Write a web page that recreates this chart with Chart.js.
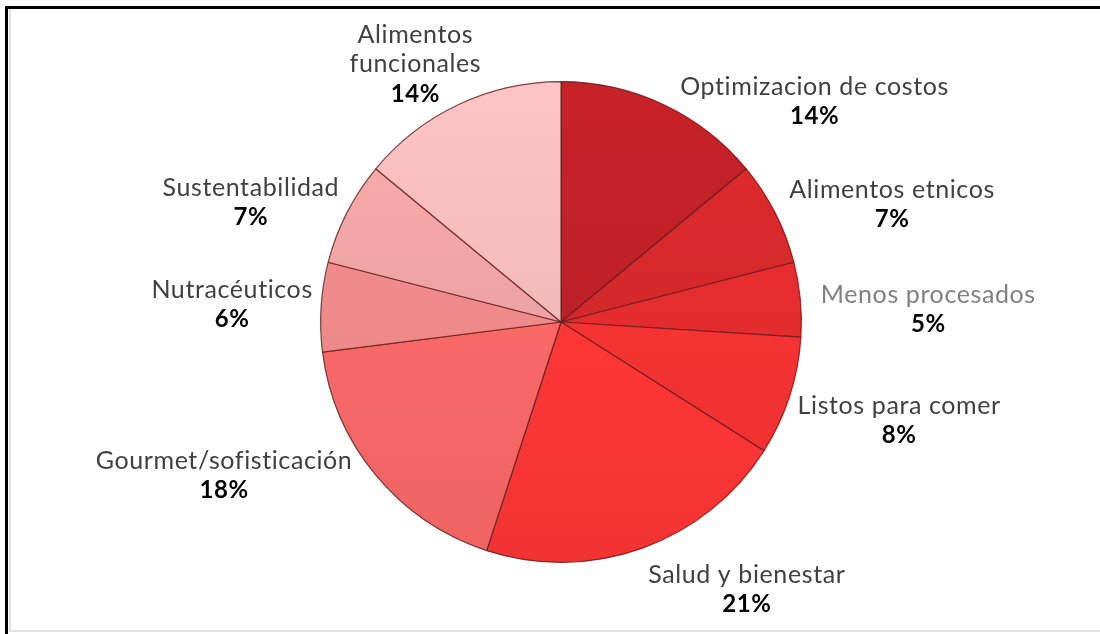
<!DOCTYPE html>
<html>
<head>
<meta charset="utf-8">
<script src="https://cdn.jsdelivr.net/npm/chart.js"></script>
<style>
  body { margin: 0; background: #fff; }
  #wrap { position: relative; width: 1100px; height: 634px; overflow: hidden; }
  #frame {
    position: absolute; left: 5px; top: 6px; width: 1200px; height: 700px;
    border-left: 3px solid #000; border-top: 3px solid #000;
  }
  #edge {
    position: absolute; left: 9px; top: 9px; width: 1200px; height: 621px;
    border-left: 2px solid #e2e2e2; border-bottom: 2px solid #e2e2e2;
  }
  canvas { position: absolute; left: 0; top: 0; }
</style>
</head>
<body>
<div id="wrap">
  <div id="frame"></div>
  <div id="edge"></div>
  <canvas id="myChart" width="1100" height="634"></canvas>
</div>
<script>
// Data
const categories = [
  "Optimizacion de costos",
  "Alimentos etnicos",
  "Menos procesados",
  "Listos para comer",
  "Salud y bienestar",
  "Gourmet/sofisticación",
  "Nutracéuticos",
  "Sustentabilidad",
  "Alimentos\nfuncionales"
];
const shares = [14, 7, 5, 8, 21, 18, 6, 7, 14];

// Slice colours, dark red to pale pink
const sliceColors = ["#BC2026", "#D4282A", "#E42C2E", "#F53333", "#FF3636",
                     "#FA6868", "#EE8A8A", "#EDA3A3", "#F3BABA"];
const nameColors = ["#404040", "#404040", "#808080", "#404040", "#404040",
                    "#404040", "#404040", "#404040", "#404040"];

// Where each label block sits, relative to the point just outside its slice
const labelShift = [[147, 5], [108, -5], [118, 10], [100, 20], [101, 31],
                    [-144, -7], [-79, -3], [-87, -7], [-39, -32]];

const FONT = "Lato, 'Open Sans', sans-serif";

// Scales the channels up or down, clamped to 255
function shade(hex, f) {
  const c = [1, 3, 5].map(k => parseInt(hex.slice(k, k + 2), 16));
  const out = c.map(v => Math.max(0, Math.min(255, Math.round(v * (1 + f)))));
  return `rgb(${out[0]},${out[1]},${out[2]})`;
}

// Light at the top of the pie, a bit darker at the bottom
function sliceFill(context) {
  const base = sliceColors[context.dataIndex];
  const area = context.chart.chartArea;
  if (!area) return base;
  const g = context.chart.ctx.createLinearGradient(0, area.top, 0, area.bottom);
  g.addColorStop(0, shade(base, 0.06));
  g.addColorStop(0.5, base);
  g.addColorStop(1, shade(base, -0.05));
  return g;
}

// Draws name and percentage next to each slice
const sliceLabels = {
  id: "sliceLabels",
  afterDatasetsDraw(chart) {
    const ctx = chart.ctx;
    const meta = chart.getDatasetMeta(0);
    const lh = 29.5, cap = 18;
    ctx.save();
    ctx.textAlign = "center";
    ctx.textBaseline = "alphabetic";
    ctx.letterSpacing = "0.6px";
    meta.data.forEach((arc, i) => {
      const p = arc.getProps(["x", "y", "startAngle", "endAngle", "outerRadius"], true);
      const mid = (p.startAngle + p.endAngle) / 2;
      const px = p.x + Math.cos(mid) * (p.outerRadius + 10);
      const py = p.y + Math.sin(mid) * (p.outerRadius + 10);
      const cx = px + labelShift[i][0];
      const cy = py + labelShift[i][1];

      const lines = categories[i].split("\n");
      const n = lines.length + 1;
      let by = cy - ((n - 1) * lh - cap) / 2;

      ctx.font = "25px " + FONT;
      ctx.fillStyle = nameColors[i];
      lines.forEach(t => { ctx.fillText(t, cx, by); by += lh; });

      ctx.font = "bold 24px " + FONT;
      ctx.fillStyle = "#000";
      ctx.fillText(shares[i] + "%", cx, by);
    });
    ctx.restore();
  }
};

const ctx = document.getElementById("myChart").getContext("2d");

const myChart = new Chart(ctx, {
  type: "pie",
  data: {
    labels: categories,
    datasets: [{
      data: shares,
      backgroundColor: sliceFill,
      borderColor: "rgba(100, 25, 25, 0.8)",
      borderWidth: 1.2
    }]
  },
  options: {
    responsive: false,
    animation: false,
    layout: { padding: { top: 81, bottom: 71, left: 100, right: 78 } },
    plugins: {
      legend: { display: false },
      tooltip: { enabled: false }
    }
  },
  plugins: [sliceLabels]
});
</script>
</body>
</html>
